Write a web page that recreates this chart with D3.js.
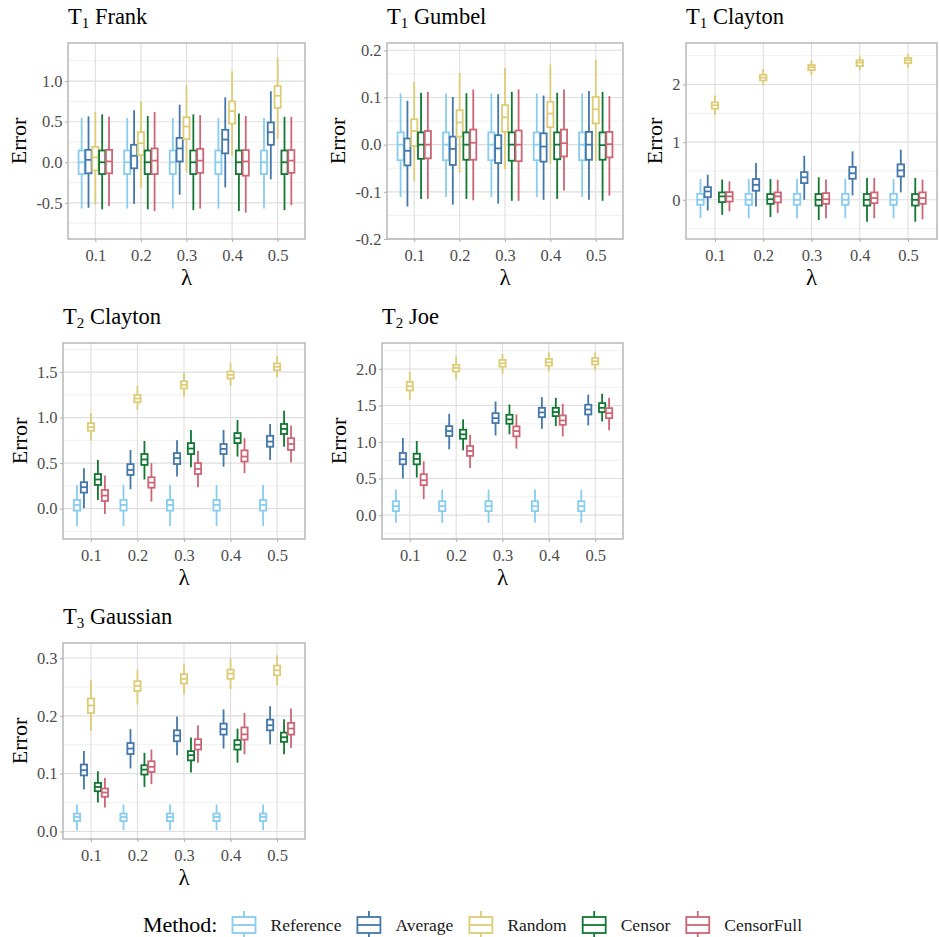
<!DOCTYPE html>
<html><head><meta charset="utf-8">
<script src="https://cdn.jsdelivr.net/npm/d3@7"></script>
<style>body{margin:0;background:#fff} svg{display:block} svg text{font-family:'Liberation Serif','DejaVu Serif',serif}</style>
</head><body>
<svg id="chart" width="939" height="937"></svg>
<script>
const methods = ["Reference","Average","Random","Censor","CensorFull"];
const methodColors = ["#88CCEE","#4477AA","#DDCC77","#117733","#CC6677"];
const lambdas = ["0.1","0.2","0.3","0.4","0.5"];

// Per panel: one row per method, one entry per lambda: [lower whisker, q1, median, q3, upper whisker]
const t1Frank = [
  [[-0.57,-0.145,0,0.145,0.545],[-0.57,-0.145,0,0.145,0.545],[-0.57,-0.145,0,0.145,0.545],[-0.57,-0.145,0,0.145,0.545],[-0.57,-0.145,0,0.145,0.545]],
  [[-0.56,-0.136,0.03,0.153,0.566],[-0.51,-0.074,0.08,0.215,0.64],[-0.40,0.01,0.17,0.30,0.71],[-0.31,0.11,0.28,0.40,0.80],[-0.21,0.215,0.37,0.49,0.875]],
  [[-0.52,-0.10,0.06,0.19,0.62],[-0.32,0.09,0.235,0.37,0.75],[-0.12,0.285,0.44,0.555,0.95],[0.08,0.475,0.63,0.75,1.12],[0.285,0.67,0.82,0.94,1.29]],
  [[-0.58,-0.145,0,0.145,0.59],[-0.58,-0.145,0,0.145,0.57],[-0.59,-0.145,0,0.145,0.59],[-0.60,-0.145,0,0.145,0.60],[-0.59,-0.145,0,0.145,0.56]],
  [[-0.54,-0.136,0.01,0.153,0.56],[-0.60,-0.145,0.02,0.17,0.62],[-0.57,-0.13,0.02,0.165,0.58],[-0.62,-0.165,0.01,0.15,0.57],[-0.53,-0.13,0.02,0.15,0.56]]
];
const t1Gumbel = [
  [[-0.111,-0.033,0,0.026,0.1085],[-0.111,-0.033,0,0.026,0.1085],[-0.111,-0.033,0,0.026,0.1085],[-0.111,-0.033,0,0.026,0.1085],[-0.111,-0.033,0,0.026,0.1085]],
  [[-0.131,-0.044,-0.013,0.013,0.093],[-0.127,-0.043,-0.009,0.017,0.101],[-0.125,-0.039,-0.008,0.020,0.107],[-0.117,-0.036,-0.004,0.024,0.104],[-0.117,-0.032,0,0.027,0.114]],
  [[-0.077,-0.003,0.029,0.054,0.133],[-0.059,0.017,0.047,0.073,0.152],[-0.052,0.027,0.058,0.084,0.163],[-0.041,0.037,0.066,0.091,0.170],[-0.035,0.045,0.075,0.101,0.180]],
  [[-0.115,-0.030,0,0.026,0.11],[-0.115,-0.032,0,0.026,0.109],[-0.119,-0.034,0,0.026,0.112],[-0.115,-0.031,0,0.026,0.11],[-0.119,-0.032,-0.001,0.026,0.112]],
  [[-0.115,-0.029,0,0.029,0.112],[-0.118,-0.032,0.004,0.032,0.117],[-0.119,-0.035,0,0.030,0.117],[-0.097,-0.025,0.003,0.032,0.117],[-0.108,-0.027,0.001,0.027,0.103]]
];
const t1Clayton = [
  [[-0.32,-0.087,0,0.104,0.36],[-0.32,-0.087,0,0.104,0.36],[-0.32,-0.087,0,0.104,0.36],[-0.32,-0.087,0,0.104,0.36],[-0.32,-0.087,0,0.104,0.36]],
  [[-0.185,0.046,0.145,0.22,0.435],[-0.116,0.157,0.26,0.36,0.64],[0.0,0.29,0.39,0.48,0.765],[0.075,0.365,0.46,0.57,0.84],[0.128,0.405,0.51,0.615,0.87]],
  [[1.47,1.58,1.64,1.69,1.81],[1.98,2.07,2.12,2.17,2.27],[2.16,2.25,2.30,2.34,2.42],[2.25,2.32,2.38,2.42,2.49],[2.29,2.37,2.42,2.46,2.53]],
  [[-0.26,-0.04,0.06,0.128,0.35],[-0.30,-0.07,0.01,0.10,0.36],[-0.35,-0.10,0,0.10,0.39],[-0.38,-0.10,0,0.10,0.38],[-0.38,-0.10,0,0.10,0.38]],
  [[-0.20,-0.03,0.06,0.133,0.32],[-0.23,-0.046,0.06,0.128,0.35],[-0.32,-0.07,0.01,0.116,0.35],[-0.32,-0.058,0.03,0.128,0.38],[-0.34,-0.07,0.03,0.128,0.35]]
];
const t2Clayton = [
  [[-0.19,-0.022,0.04,0.095,0.26],[-0.19,-0.022,0.04,0.095,0.26],[-0.19,-0.022,0.04,0.095,0.26],[-0.19,-0.022,0.04,0.095,0.26],[-0.19,-0.022,0.04,0.095,0.26]],
  [[0.004,0.176,0.235,0.29,0.444],[0.213,0.37,0.425,0.488,0.645],[0.352,0.49,0.555,0.61,0.75],[0.46,0.60,0.656,0.71,0.865],[0.535,0.68,0.737,0.80,0.93]],
  [[0.748,0.855,0.895,0.94,1.05],[1.085,1.17,1.21,1.25,1.35],[1.232,1.32,1.36,1.40,1.496],[1.35,1.43,1.47,1.507,1.60],[1.445,1.52,1.558,1.595,1.68]],
  [[0.095,0.26,0.32,0.38,0.535],[0.32,0.48,0.54,0.60,0.744],[0.455,0.60,0.66,0.72,0.865],[0.572,0.72,0.774,0.83,0.975],[0.68,0.82,0.876,0.93,1.075]],
  [[-0.06,0.084,0.143,0.205,0.363],[0.077,0.23,0.286,0.345,0.50],[0.235,0.38,0.436,0.50,0.634],[0.39,0.517,0.572,0.64,0.774],[0.506,0.645,0.71,0.774,0.913]]
];
const t2Joe = [
  [[-0.105,0.055,0.123,0.19,0.35],[-0.105,0.055,0.123,0.19,0.35],[-0.105,0.055,0.123,0.19,0.35],[-0.105,0.055,0.123,0.19,0.35],[-0.105,0.055,0.123,0.19,0.35]],
  [[0.50,0.695,0.764,0.85,1.055],[0.90,1.082,1.15,1.218,1.386],[1.09,1.26,1.327,1.395,1.555],[1.18,1.34,1.405,1.468,1.614],[1.227,1.377,1.445,1.51,1.65]],
  [[1.577,1.705,1.764,1.823,1.964],[1.855,1.964,2.014,2.055,2.168],[1.93,2.03,2.077,2.123,2.205],[1.964,2.045,2.09,2.136,2.227],[1.977,2.06,2.105,2.15,2.227]],
  [[0.514,0.695,0.768,0.84,1.014],[0.886,1.045,1.105,1.168,1.31],[1.105,1.25,1.31,1.373,1.514],[1.218,1.355,1.41,1.468,1.605],[1.282,1.41,1.468,1.532,1.66]],
  [[0.218,0.41,0.477,0.56,0.736],[0.645,0.81,0.877,0.945,1.10],[0.91,1.077,1.15,1.214,1.377],[1.077,1.236,1.295,1.364,1.523],[1.16,1.327,1.395,1.464,1.605]]
];
const t3Gaussian = [
  [[0.0023,0.018,0.025,0.031,0.0467],[0.0023,0.018,0.025,0.031,0.0467],[0.0023,0.018,0.025,0.031,0.0467],[0.0023,0.018,0.025,0.031,0.0467],[0.0023,0.018,0.025,0.031,0.0467]],
  [[0.0726,0.097,0.106,0.1158,0.139],[0.109,0.134,0.1434,0.153,0.177],[0.132,0.156,0.166,0.175,0.199],[0.1434,0.1676,0.177,0.1866,0.211],[0.151,0.175,0.1838,0.1935,0.2166]],
  [[0.174,0.205,0.218,0.23,0.2615],[0.2195,0.243,0.2517,0.26,0.28],[0.237,0.2558,0.2638,0.272,0.29],[0.246,0.264,0.273,0.28,0.299],[0.253,0.27,0.2788,0.287,0.3047]],
  [[0.05,0.0697,0.077,0.084,0.104],[0.077,0.0985,0.107,0.1146,0.136],[0.102,0.123,0.132,0.139,0.1624],[0.119,0.1417,0.15,0.158,0.178],[0.1336,0.155,0.163,0.171,0.194]],
  [[0.0415,0.06,0.0674,0.0743,0.0927],[0.0818,0.103,0.1118,0.1215,0.1417],[0.119,0.1417,0.15,0.1596,0.1838],[0.1336,0.159,0.168,0.18,0.205],[0.1446,0.1676,0.178,0.1878,0.2126]]
];

// axis ranges and tick labels
const frankTicks = [-0.5,0,0.5,1.0], frankMinor = [-0.75,-0.25,0.25,0.75,1.25];
const gumbelTicks = [-0.2,-0.1,0,0.1,0.2], gumbelMinor = [-0.15,-0.05,0.05,0.15];
const clayton1Ticks = [0,1,2], clayton1Minor = [-0.5,0.5,1.5,2.5];
const clayton2Ticks = [0,0.5,1.0,1.5], clayton2Minor = [-0.25,0.25,0.75,1.25,1.75];
const joeTicks = [0,0.5,1.0,1.5,2.0], joeMinor = [-0.25,0.25,0.75,1.25,1.75,2.25];
const gaussTicks = [0,0.1,0.2,0.3], gaussMinor = [0.05,0.15,0.25];

const panels = [
  {sub:"1", name:"Frank",    data:t1Frank,    dom:[-0.945,1.469], ticks:frankTicks,    minor:frankMinor,    fmt:".1f", row:0, col:0, left:68},
  {sub:"1", name:"Gumbel",   data:t1Gumbel,   dom:[-0.2,0.2155],  ticks:gumbelTicks,   minor:gumbelMinor,   fmt:".1f", row:0, col:1, left:387},
  {sub:"1", name:"Clayton",  data:t1Clayton,  dom:[-0.68,2.72],   ticks:clayton1Ticks, minor:clayton1Minor, fmt:"d",   row:0, col:2, left:686},
  {sub:"2", name:"Clayton",  data:t2Clayton,  dom:[-0.334,1.82],  ticks:clayton2Ticks, minor:clayton2Minor, fmt:".1f", row:1, col:0, left:63},
  {sub:"2", name:"Joe",      data:t2Joe,      dom:[-0.327,2.355], ticks:joeTicks,      minor:joeMinor,      fmt:".1f", row:1, col:1, left:382},
  {sub:"3", name:"Gaussian", data:t3Gaussian, dom:[-0.013,0.326], ticks:gaussTicks,    minor:gaussMinor,    fmt:".1f", row:2, col:0, left:63}
];

const FONT = "'Liberation Serif', 'DejaVu Serif', serif";
const rights = [305, 623, 937];
const svg = d3.select("#chart").style("font-family", FONT);
const SW = 1.8;

panels.forEach(p => {
  const top = 43 + p.row*300, bottom = 239 + p.row*300;
  const left = p.left, right = rights[p.col];
  const g = svg.append("g");
  const x = d3.scalePoint().domain(lambdas).range([left, right]).padding(0.6);
  const y = d3.scaleLinear().domain(p.dom).range([bottom, top]);
  const step = x.step();
  const dodge = step*0.15;
  const bw = dodge*0.9;

  // grid
  g.selectAll(".minor").data(p.minor).join("line")
    .attr("x1", left).attr("x2", right).attr("y1", d=>y(d)).attr("y2", d=>y(d))
    .attr("stroke", "#e6e6e6").attr("stroke-width", 0.6);
  g.selectAll(".majorY").data(p.ticks).join("line")
    .attr("x1", left).attr("x2", right).attr("y1", d=>y(d)).attr("y2", d=>y(d))
    .attr("stroke", "#dedede").attr("stroke-width", 1.1);
  g.selectAll(".majorX").data(lambdas).join("line")
    .attr("x1", d=>x(d)).attr("x2", d=>x(d)).attr("y1", top).attr("y2", bottom)
    .attr("stroke", "#dedede").attr("stroke-width", 1.1);

  // boxes
  p.data.forEach((rows, mi) => {
    const col = methodColors[mi];
    rows.forEach((s, li) => {
      const cx = x(lambdas[li]) + (mi-2)*dodge;
      g.append("line").attr("x1", cx).attr("x2", cx).attr("y1", y(s[0])).attr("y2", y(s[4]))
        .attr("stroke", col).attr("stroke-width", SW);
      g.append("rect").attr("x", cx-bw/2).attr("width", bw)
        .attr("y", y(s[3])).attr("height", y(s[1])-y(s[3]))
        .attr("fill", "#fff").attr("stroke", col).attr("stroke-width", SW);
      g.append("line").attr("x1", cx-bw/2).attr("x2", cx+bw/2).attr("y1", y(s[2])).attr("y2", y(s[2]))
        .attr("stroke", col).attr("stroke-width", SW);
    });
  });

  // border
  g.append("rect").attr("x", left).attr("y", top).attr("width", right-left).attr("height", bottom-top)
    .attr("fill", "none").attr("stroke", "#b3b3b3").attr("stroke-width", 1.4);

  // axes
  const ya = g.append("g").attr("transform", `translate(${left},0)`)
    .call(d3.axisLeft(y).tickValues(p.ticks).tickFormat(d3.format(p.fmt)).tickSize(3).tickPadding(2.5));
  const xa = g.append("g").attr("transform", `translate(0,${bottom})`)
    .call(d3.axisBottom(x).tickSize(3).tickPadding(7));
  [ya, xa].forEach(a => {
    a.attr("font-family", FONT).attr("font-size", 16.5);
    a.select(".domain").remove();
    a.selectAll(".tick line").attr("stroke", "#b3b3b3").attr("stroke-width", 1.1);
    a.selectAll("text").attr("fill", "#4d4d4d").attr("font-family", FONT)
      .style("font-size", "16.5px").style("font-family", FONT);
  });
  ya.selectAll("text").text(d => (d < 0 ? "-" : "") + d3.format(p.fmt)(Math.abs(d)));

  // y axis title
  let maxW = 0;
  ya.selectAll("text").each(function(){ maxW = Math.max(maxW, this.getComputedTextLength()); });
  const bx = left - 5.5 - maxW - 10;
  g.append("text").attr("transform", `translate(${bx},${(top+bottom)/2}) rotate(-90)`)
    .attr("text-anchor", "middle").style("font-size", "22px").attr("fill", "#000").text("Error");
  // x axis title
  g.append("text").attr("x", (left+right)/2).attr("y", bottom+46).attr("text-anchor", "middle")
    .style("font-size", "23px").attr("fill", "#000").text("λ");

  // title
  const t = g.append("text").attr("x", left).attr("y", top-19).style("font-size", "22.5px").attr("fill", "#000");
  t.append("tspan").text("T");
  t.append("tspan").attr("dy", 4).style("font-size", "15px").text(p.sub);
  t.append("tspan").attr("dy", -4).text(" " + p.name);
});

// legend
const lg = svg.append("g");
const lt = lg.append("text").attr("x", 0).attr("y", 932).style("font-size", "22px").attr("fill", "#000").text("Method:");
let cur = lt.node().getComputedTextLength() + 15;
methods.forEach((m, i) => {
  const col = methodColors[i];
  const kx = cur, kw = 23;
  lg.append("line").attr("x1", kx+kw/2).attr("x2", kx+kw/2).attr("y1", 911).attr("y2", 939)
    .attr("stroke", col).attr("stroke-width", SW);
  lg.append("rect").attr("x", kx).attr("y", 917).attr("width", kw).attr("height", 16)
    .attr("fill", "#fff").attr("stroke", col).attr("stroke-width", SW);
  lg.append("line").attr("x1", kx).attr("x2", kx+kw).attr("y1", 925).attr("y2", 925)
    .attr("stroke", col).attr("stroke-width", SW);
  const tx = lg.append("text").attr("x", kx+kw+15).attr("y", 931).style("font-size", "17.5px").attr("fill", "#1a1a1a").text(m);
  cur = kx + kw + 15 + tx.node().getComputedTextLength() + 16;
});
const totalW = cur - 16;
lg.attr("transform", `translate(${472.5 - totalW/2},0)`);
</script>
</body></html>
